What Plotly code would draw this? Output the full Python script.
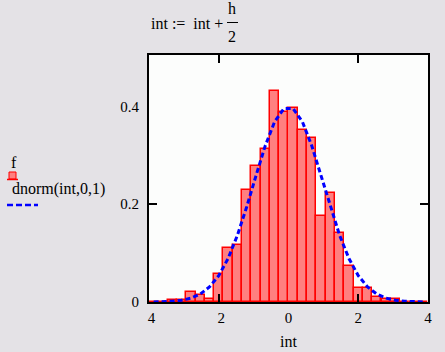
import plotly.graph_objects as go

# ---- data ----
h = 8 / 30  # bin width
int_vals = [-3.867, -3.6, -3.333, -3.067, -2.8, -2.533, -2.267, -2.0, -1.733, -1.467,
            -1.2, -0.933, -0.667, -0.4, -0.133, 0.133, 0.4, 0.667, 0.933, 1.2,
            1.467, 1.733, 2.0, 2.267, 2.533, 2.8, 3.067, 3.333, 3.6, 3.867]
f_vals = [0.0, 0.0, 0.004, 0.004, 0.020, 0.014, 0.006, 0.057, 0.110, 0.116,
          0.230, 0.278, 0.313, 0.431, 0.389, 0.396, 0.351, 0.335, 0.176, 0.222,
          0.142, 0.074, 0.028, 0.028, 0.011, 0.006, 0.006, 0.0, 0.0, 0.0]
dnorm_vals = [0.0002, 0.0006, 0.0015, 0.0036, 0.0079, 0.0161, 0.0306, 0.0540, 0.0888, 0.1360,
              0.1942, 0.2580, 0.3194, 0.3683, 0.3954, 0.3954, 0.3683, 0.3194, 0.2580, 0.1942,
              0.1360, 0.0888, 0.0540, 0.0306, 0.0161, 0.0079, 0.0036, 0.0015, 0.0006, 0.0002]
x_tickvals = [-4, -2, 0, 2, 4]
x_ticktext = ["<span style='color:rgba(0,0,0,0)'>-</span>4",
              "<span style='color:rgba(0,0,0,0)'>-</span>2", "0", "2", "4"]
y_tickvals = [0, 0.2, 0.4]
y_ticktext = ["0", "0.2", "0.4"]

W, H = 445, 352
L, R, T, B = 149, 428, 55, 302
SERIF = "Times New Roman, Tinos, Nimbus Roman, Liberation Serif, DejaVu Serif"
BG = "#e4e2e6"


def px(x):
    return (x - L) / (R - L)


def py(y):
    return (B - y) / (B - T)


fig = go.Figure()
fig.add_trace(go.Bar(x=int_vals, y=f_vals, width=h,
                     marker=dict(color="#ff8080", line=dict(color="#ff0000", width=1.5)),
                     showlegend=False, hoverinfo="skip"))
fig.add_trace(go.Scatter(x=int_vals, y=dnorm_vals, mode="lines",
                         line=dict(color="#0000ff", width=3, dash="5px,3px"),
                         showlegend=False))
# empty helper trace for the inner tick marks axes
fig.add_trace(go.Scatter(x=[], y=[], xaxis="x2", yaxis="y2", showlegend=False))

axis_common = dict(showline=True, mirror=True, linecolor="black", linewidth=2,
                   showgrid=False, zeroline=False, ticks="", automargin=False,
                   tickfont=dict(family=SERIF, size=15, color="black"))

fig.update_layout(
    width=W, height=H,
    margin=dict(l=L, r=W - R, t=T, b=H - B),
    paper_bgcolor=BG, plot_bgcolor="#fcfdfc",
    bargap=0,
    font=dict(family=SERIF, color="black"),
    xaxis=dict(range=[-4, 4], tickvals=x_tickvals, ticktext=x_ticktext,
               ticklabelstandoff=1,
               title=dict(text="int", font=dict(family=SERIF, size=16, color="black"), standoff=11),
               **axis_common),
    yaxis=dict(range=[0, 0.505], tickvals=y_tickvals, ticktext=y_ticktext,
               ticklabelstandoff=5, **axis_common),
    xaxis2=dict(overlaying="x", anchor="y2", range=[-4, 4], tickvals=[-2, 2],
                ticks="inside", ticklen=8, tickwidth=1.5, tickcolor="black",
                mirror="ticks", showline=False, showticklabels=False,
                showgrid=False, zeroline=False),
    yaxis2=dict(overlaying="y", anchor="x2", range=[0, 0.505], tickvals=[0.2],
                ticks="inside", ticklen=8, tickwidth=1.5, tickcolor="black",
                mirror="ticks", showline=False, showticklabels=False,
                showgrid=False, zeroline=False),
)

# title expression  int := int + h/2
fig.add_annotation(x=px(149), y=py(23), xref="paper", yref="paper", xanchor="left", yanchor="middle",
                   text="int :=\u00a0\u00a0int +", showarrow=False,
                   font=dict(family=SERIF, size=16, color="black"))
fig.add_annotation(x=px(232), y=py(8), xref="paper", yref="paper", xanchor="center", yanchor="middle",
                   text="h", showarrow=False, font=dict(family=SERIF, size=16, color="black"))
fig.add_annotation(x=px(232), y=py(36), xref="paper", yref="paper", xanchor="center", yanchor="middle",
                   text="2", showarrow=False, font=dict(family=SERIF, size=16, color="black"))
fig.add_shape(type="line", xref="paper", yref="paper", x0=px(227), x1=px(238), y0=py(22.5), y1=py(22.5),
              line=dict(color="black", width=1))

# legend
fig.add_annotation(x=px(9), y=py(162), xref="paper", yref="paper", xanchor="left", yanchor="middle",
                   text="f", showarrow=False, font=dict(family=SERIF, size=16, color="black"))
fig.add_shape(type="rect", xref="paper", yref="paper", x0=px(9), x1=px(16), y0=py(179), y1=py(172),
              fillcolor="#ff8080", line=dict(color="#ff0000", width=1))
fig.add_shape(type="line", xref="paper", yref="paper", x0=px(7), x1=px(18), y0=py(179.5), y1=py(179.5),
              line=dict(color="#ff0000", width=1.5))
fig.add_annotation(x=px(10), y=py(189), xref="paper", yref="paper", xanchor="left", yanchor="middle",
                   text="dnorm(int,0,1)", showarrow=False, font=dict(family=SERIF, size=16, color="black"))
fig.add_shape(type="line", xref="paper", yref="paper", x0=px(7), x1=px(38), y0=py(205), y1=py(205),
              line=dict(color="#0000ff", width=2.5, dash="6px,3px"))

fig.write_html("out.html")
